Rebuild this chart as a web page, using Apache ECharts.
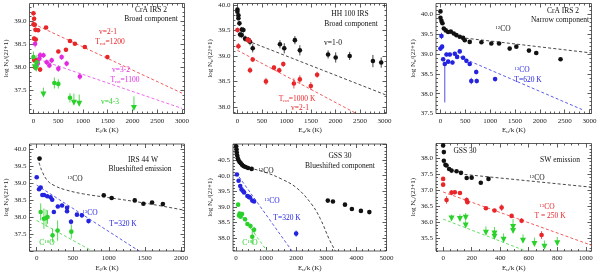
<!DOCTYPE html>
<html><head><meta charset="utf-8">
<script src="https://cdn.jsdelivr.net/npm/echarts@6/dist/echarts.min.js"></script>
<style>html,body{margin:0;padding:0;background:#fff}#c{width:600px;height:273px}</style>
</head><body><div id="c"></div><script>
// ---------------- DATA (x = E_u/k [K], y = log N_u/(2J+1), e = error) ----------------
// Panel 1: CrA IRS 2, broad component
const p1_v21 = [[0,39.17,0.05],[13,39.05,0.05],[0,38.93,0.06],[27,38.92,0.05],[40,38.81,0.05],[94,38.80,0.04],[13,38.62,0.05],[47,38.60,0.05],[254,38.86,0.03],[502,38.34,0.04],[656,38.38,0.04],[737,38.57,0.03],[837,38.51,0.03],[1038,38.44,0.03],[1493,38.22,0.03],[13,38.16,0.06],[67,38.15,0.05],[134,37.95,0.05],[33,38.00,0.06]];
const p1_v32 = [[33,38.51,0.08],[87,38.08,0.10],[121,38.19,0.08],[134,38.26,0.07],[201,38.26,0.06],[268,38.11,0.06],[321,38.04,0.06],[368,38.15,0.06],[502,37.97,0.07],[569,38.22,0.06],[670,38.08,0.06],[937,37.80,0.07]];
const p1_v43 = [[0,38.22,0.12],[67,38.11,0.15],[422,37.66,0.12],[502,37.64,0.10],[737,37.34,0.10]];
const p1_v43_lim = [[27,38.00,0.15],[54,37.97,0.12],[201,37.41,0.15],[817,37.23,0.20],[924,37.21,0.20],[2029,37.12,0.25]];
const p1_v21_fit = [[0,38.94],[3000,37.44]];
const p1_v32_fit = [[0,38.21],[3000,37.11]];
// Panel 2: HH 100 IRS, broad component
const p2_v10 = [[0,39.91,0.04],[0,39.87,0.04],[20,39.80,0.04],[20,39.74,0.04],[41,39.64,0.05],[88,39.52,0.05],[122,39.51,0.05],[54,39.42,0.06],[88,39.41,0.06],[156,39.34,0.06],[224,39.31,0.06],[257,39.28,0.07],[312,39.15,0.08],[867,39.23,0.08],[955,39.15,0.10],[1172,39.31,0.08],[1273,39.11,0.10],[1849,39.03,0.08],[2004,38.97,0.10],[2289,39.00,0.08],[2763,38.90,0.12],[2932,38.87,0.10]];
const p2_v21 = [[0,39.51,0.05],[20,39.19,0.06],[210,39.32,0.05],[240,39.30,0.05],[312,38.93,0.05],[257,38.72,0.06],[582,38.50,0.07],[745,38.77,0.05],[853,38.72,0.05],[935,38.84,0.05],[1151,38.46,0.10],[1273,38.54,0.08],[1497,38.41,0.08],[1625,38.63,0.06]];
const p2_v10_fit = [[200,39.30],[3040,38.23]];
const p2_v21_fit = [[0,39.11],[2424,37.87]];
// Panel 3: CrA IRS 2, narrow component
const p3_12co = [[0,40.08,0.02],[0,39.92,0.02],[20,39.84,0.02],[40,39.78,0.02],[67,39.65,0.02],[107,39.60,0.02],[154,39.56,0.02],[208,39.57,0.02],[268,39.52,0.02],[321,39.48,0.02],[388,39.44,0.02],[455,39.41,0.02],[489,39.35,0.02],[589,39.31,0.03],[824,39.30,0.03],[1024,39.27,0.03],[1179,39.27,0.03],[1393,39.14,0.03],[1527,39.19,0.03],[1781,39.09,0.03],[1928,39.03,0.03],[2417,38.87,0.03]];
const p3_13co = [[20,39.46,0.08,0.08],[0,39.14,0.05,0.05],[33,39.19,0.05,0.05],[54,38.87,0.05,0.05],[87,38.75,0.97,0.06],[121,38.99,0.05,0.05],[154,38.81,0.05,0.05],[188,38.99,0.05,0.05],[241,38.79,0.05,0.05],[288,39.01,0.05,0.05],[335,38.93,0.05,0.05],[388,39.07,0.05,0.05],[455,38.91,0.05,0.05],[522,38.83,0.05,0.05],[589,38.75,0.05,0.05],[620,38.32,0.08,0.08],[720,38.55,0.06,0.06],[730,38.32,0.06,0.06],[1100,38.37,0.05,0.05]];
const p3_12co_fit = [[400,39.42],[3040,39.03]];
const p3_13co_fit = [[300,38.98],[2850,37.60]];
// Panel 4: IRS 44 W, blueshifted emission
const p4_12co = [[40,39.72,0.03],[930,38.64,0.03],[1040,38.56,0.03],[1360,38.49,0.03],[1480,38.39,0.04],[1600,38.43,0.03],[1750,38.38,0.03]];
const p4_12co_fit = [[15,39.75],[40,39.55],[80,39.32],[150,39.07],[250,38.92],[400,38.80],[650,38.68],[1000,38.57],[1500,38.41],[2050,38.20]];
const p4_13co = [[0,39.17,0.05],[32,38.82,0.05],[55,38.87,0.05],[78,38.65,0.05],[101,38.65,0.05],[146,38.61,0.05],[192,38.58,0.05],[215,38.51,0.05],[238,38.15,0.06],[293,38.31,0.05],[352,38.34,0.05],[421,38.27,0.05],[421,38.17,0.06],[476,37.86,0.08],[558,38.07,0.05],[627,38.05,0.06],[719,37.88,0.06]];
const p4_13co_fit = [[0,38.94],[1420,37.00]];
const p4_c18o = [[55,38.15,0.25],[100,37.95,0.30],[130,37.97,0.25],[150,38.00,0.20],[220,37.46,0.20],[290,37.60,0.30],[480,37.57,0.20]];
const p4_c18o_fit = [[0,37.90],[770,37.00]];
// Panel 5: GSS 30, blueshifted component
const p5_12co = [[5,40.95,0.02],[15,40.85,0.02],[25,40.75,0.02],[40,40.65,0.02],[60,40.56,0.02],[90,40.49,0.02],[120,40.44,0.02],[160,40.40,0.02],[200,40.35,0.02],[250,40.31,0.02],[320,40.28,0.02],[400,40.25,0.02],[520,40.22,0.02],[3050,39.20,0.03],[3220,39.17,0.03],[3620,39.07,0.03],[3850,38.93,0.03],[4150,38.87,0.03],[4430,38.83,0.03]];
const p5_12co_fit = [[450,40.25],[1000,40.10],[1500,39.90],[2000,39.62],[2500,39.10],[2800,38.62],[3100,37.95],[3300,37.58]];
const p5_13co = [[30,40.04,0.03],[86,39.84,0.03],[140,39.67,0.03],[184,39.56,0.03],[240,39.50,0.03],[270,39.46,0.03],[378,39.35,0.03],[430,39.32,0.03],[464,39.30,0.03],[540,39.20,0.03],[600,39.17,0.03],[1998,38.14,0.10]];
const p5_13co_fit = [[0,40.10],[1860,37.58]];
const p5_c18o = [[70,39.07,0.06],[100,38.72,0.06],[120,38.78,0.06],[150,38.68,0.05],[200,38.77,0.05],[300,38.60,0.06],[380,38.45,0.06],[480,38.38,0.08],[600,38.26,0.10],[540,38.04,0.25]];
const p5_c18o_fit = [[100,38.84],[1030,37.58]];
// Panel 6: GSS 30, SW emission
const p6_12co = [[0,38.41,0.02],[5,38.20,0.02],[5,37.93,0.02],[16,37.80,0.02],[24,37.78,0.02],[42,37.67,0.02],[59,37.62,0.03],[94,37.60,0.03],[125,37.55,0.04],[165,37.39,0.05],[200,37.40,0.03],[264,37.24,0.05],[318,37.36,0.03]];
const p6_12co_fit = [[150,37.50],[1040,37.10]];
const p6_13co = [[0,37.36,0.06],[0,37.18,0.06],[24,36.70,0.12],[59,36.93,0.08],[82,36.94,0.06],[118,36.92,0.05],[165,36.70,0.08],[170,36.63,0.06],[300,36.44,0.05],[360,36.37,0.05],[410,36.46,0.10],[480,36.20,0.05],[550,36.05,0.08],[690,35.60,0.12]];
const p6_13co_fit = [[0,36.95],[1040,35.28]];
const p6_c18o_lim = [[59,36.12,0.12],[118,36.10,0.15],[158,36.14,0.15],[158,35.90,0.15],[300,35.67,0.20],[360,35.65,0.20],[360,35.55,0.20],[424,35.45,0.20],[490,35.85,0.25],[490,35.73,0.20],[560,35.42,0.20],[640,35.32,0.20],[710,35.23,0.20],[800,35.34,0.20]];
const p6_c18o_fit = [[0,36.10],[580,35.10]];

// ---------------- LAYOUT ----------------
const FONT = 'Liberation Serif';
const C = {k:'#111', r:'#e8262a', m:'#e22be0', g:'#2bd12b', b:'#2323e0'};
const FIT = {k:'#333', r:'#f04a4a', m:'#ee55ee', g:'#55dd55', b:'#4a4ae8'};

const panels = [
 {left:29.5, top:3.5, w:155, h:110, xMin:-80, xMax:3050, xMaj:500, xMin2:100, yMin:37.0, yMax:39.38, yLab:[37.5,39.0], xName:'E{sub|J}/k (K)', yName:'log N{sub|J}/(2J+1)'},
 {left:233.5, top:3.5, w:153, h:110, xMin:-80, xMax:3040, xMaj:500, xMin2:100, yMin:37.87, yMax:40.03, yLab:[38.0,40.0], xName:'E{sub|u}/k (K)', yName:'log N{sub|u}/(2J+1)'},
 {left:436, top:3.5, w:155.5, h:110, xMin:-90, xMax:3040, xMaj:500, xMin2:100, yMin:37.5, yMax:40.28, yLab:[37.5,40.0], xName:'E{sub|u}/k (K)', yName:'log N{sub|u}/(2J+1)'},
 {left:29.5, top:144, w:155, h:110, xMin:-100, xMax:2050, xMaj:500, xMin2:100, yMin:37.0, yMax:40.15, yLab:[37.5,40.0], xName:'E{sub|J}/k (K)', yName:'log N{sub|J}/(2J+1)'},
 {left:233, top:144, w:153.5, h:110, xMin:-100, xMax:5000, xMaj:1000, xMin2:200, yMin:37.58, yMax:41.02, yLab:[38.0,40.5], xName:'E{sub|u}/k (K)', yName:'log N{sub|u}/(2J+1)'},
 {left:436, top:143.5, w:155.5, h:110, xMin:-50, xMax:1040, xMaj:200, xMin2:50, yMin:35.1, yMax:38.47, yLab:[35.5,38.0], xName:'E{sub|u}/k (K)', yName:'log N{sub|u}/(2J+1)'}
];

function range(a, b, s){ const out=[]; const n=Math.round((b-a)/s); for(let i=0;i<=n;i++){ out.push(+(a+i*s).toFixed(4)); } return out; }
function ticksIn(min,max,step){ const s=Math.ceil(min/step-1e-9)*step; return range(s, Math.floor(max/step+1e-9)*step, step).filter(v=>v>=min&&v<=max); }

const richSub = {
  sub:{fontSize:5, fontFamily:FONT, verticalAlign:'bottom', padding:[3,0,0,0], color:'#222'},
  sup:{fontSize:5, fontFamily:FONT, verticalAlign:'top', padding:[0,0,3,0], color:'#222'}
};

const grids=[], xAxes=[], yAxes=[], series=[];
panels.forEach((p,i)=>{
  grids.push({left:p.left, top:p.top, width:p.w, height:p.h, show:true, borderColor:'#333', borderWidth:0.8, backgroundColor:'rgba(0,0,0,0)'});
  const xMaj = ticksIn(p.xMin,p.xMax,p.xMaj);
  const xMinr = ticksIn(p.xMin,p.xMax,p.xMin2).filter(v=>!xMaj.some(m=>Math.abs(m-v)<1e-6));
  const yMaj = ticksIn(p.yMin,p.yMax,0.5);
  const yMinr = ticksIn(p.yMin,p.yMax,0.1).filter(v=>!yMaj.some(m=>Math.abs(m-v)<1e-6));
  const yLabVals = yMaj.filter(v=>v>=p.yLab[0]-1e-6 && v<=p.yLab[1]+1e-6);
  const xb = {gridIndex:i, type:'value', min:p.xMin, max:p.xMax, splitLine:{show:false}, axisLine:{show:false,onZero:false}};
  const yb = {gridIndex:i, type:'value', min:p.yMin, max:p.yMax, splitLine:{show:false}, axisLine:{show:false,onZero:false}};
  const tickStyle = {color:'#333', width:0.8};
  xAxes.push(Object.assign({}, xb, {position:'bottom',
    axisTick:{show:true, inside:true, length:4, customValues:xMaj, lineStyle:tickStyle},
    axisLabel:{show:true, customValues:xMaj, fontFamily:FONT, fontSize:7, color:'#222', margin:4, formatter:v=>String(Math.round(v))},
    name:p.xName, nameLocation:'middle', nameGap:13,
    nameTextStyle:{fontFamily:FONT, fontSize:7, color:'#222', rich:richSub}}));
  xAxes.push(Object.assign({}, xb, {position:'bottom', axisTick:{show:true, inside:true, length:2, customValues:xMinr, lineStyle:tickStyle}, axisLabel:{show:false}}));
  xAxes.push(Object.assign({}, xb, {position:'top', axisTick:{show:true, inside:true, length:4, customValues:xMaj, lineStyle:tickStyle}, axisLabel:{show:false}}));
  xAxes.push(Object.assign({}, xb, {position:'top', axisTick:{show:true, inside:true, length:2, customValues:xMinr, lineStyle:tickStyle}, axisLabel:{show:false}}));
  yAxes.push(Object.assign({}, yb, {position:'left',
    axisTick:{show:true, inside:true, length:4, customValues:yMaj, lineStyle:tickStyle},
    axisLabel:{show:true, customValues:yLabVals, fontFamily:FONT, fontSize:7, color:'#222', margin:3, formatter:v=>v.toFixed(1)},
    name:p.yName, nameLocation:'middle', nameGap:19, nameRotate:90,
    nameTextStyle:{fontFamily:FONT, fontSize:7, color:'#222', rich:richSub}}));
  yAxes.push(Object.assign({}, yb, {position:'left', axisTick:{show:true, inside:true, length:2, customValues:yMinr, lineStyle:tickStyle}, axisLabel:{show:false}}));
  yAxes.push(Object.assign({}, yb, {position:'right', axisTick:{show:true, inside:true, length:4, customValues:yMaj, lineStyle:tickStyle}, axisLabel:{show:false}}));
  yAxes.push(Object.assign({}, yb, {position:'right', axisTick:{show:true, inside:true, length:2, customValues:yMinr, lineStyle:tickStyle}, axisLabel:{show:false}}));
});

function norm(d){ return d.map(r=>[r[0], r[1], r[2]||0, (r[3]!==undefined?r[3]:(r[2]||0))]); }
function errBars(pi, data, color, upOnly){
  return {type:'custom', xAxisIndex:pi*4, yAxisIndex:pi*4, data:norm(data), silent:true, z:3, clip:true,
    encode:{x:0, y:1},
    renderItem:(params, api)=>{
      const x=api.value(0), y=api.value(1), lo=api.value(2), hi=api.value(3);
      const a=api.coord([x, upOnly? y : y-lo]), b=api.coord([x, y+hi]);
      return {type:'line', shape:{x1:a[0],y1:a[1],x2:b[0],y2:b[1]}, style:{stroke:color, lineWidth:0.8}};
    }};
}
function points(pi, data, color, tri){
  return {type:'scatter', xAxisIndex:pi*4, yAxisIndex:pi*4, data:data.map(r=>[r[0],r[1]]), silent:true, z:4,
    symbol: tri?'triangle':'circle', symbolRotate: tri?180:0, symbolSize: tri?[6,6]:4.6,
    itemStyle:{color:color, opacity:1}};
}
function fit(pi, data, color, smooth){
  return {type:'line', xAxisIndex:pi*4, yAxisIndex:pi*4, data:data, silent:true, z:2, symbol:'none', smooth:smooth||false,
    lineStyle:{color:color, width:0.9, type:[3,2.2]}};
}
function add(pi, data, col, tri){ series.push(errBars(pi, data, C[col], tri)); series.push(points(pi, data, C[col], tri)); }

// Panel 1
series.push(fit(0,p1_v21_fit,FIT.r)); series.push(fit(0,p1_v32_fit,FIT.m));
add(0,p1_v21,'r'); add(0,p1_v32,'m'); add(0,p1_v43,'g'); add(0,p1_v43_lim,'g',true);
// Panel 2
series.push(fit(1,p2_v10_fit,FIT.k)); series.push(fit(1,p2_v21_fit,FIT.r));
add(1,p2_v10,'k'); add(1,p2_v21,'r');
// Panel 3
series.push(fit(2,p3_12co_fit,FIT.k)); series.push(fit(2,p3_13co_fit,FIT.b));
add(2,p3_12co,'k'); add(2,p3_13co,'b');
// Panel 4
series.push(fit(3,p4_12co_fit,FIT.k,0.4)); series.push(fit(3,p4_13co_fit,FIT.b)); series.push(fit(3,p4_c18o_fit,FIT.g));
add(3,p4_12co,'k'); add(3,p4_13co,'b'); add(3,p4_c18o,'g');
// Panel 5
series.push(fit(4,p5_12co_fit,FIT.k,0.4)); series.push(fit(4,p5_13co_fit,FIT.b)); series.push(fit(4,p5_c18o_fit,FIT.g));
add(4,p5_12co,'k'); add(4,p5_13co,'b'); add(4,p5_c18o,'g');
// Panel 6
series.push(fit(5,p6_12co_fit,FIT.k)); series.push(fit(5,p6_13co_fit,FIT.r)); series.push(fit(5,p6_c18o_fit,FIT.g));
add(5,p6_12co,'k'); add(5,p6_13co,'r'); add(5,p6_c18o_lim,'g',true);

// ---------------- ANNOTATIONS ----------------
const notes = [
 [151,10,'CrA IRS 2','k'],[151,19,'Broad component','k'],
 [108,32,'v=2-1','r'],[110,42,'T{sub|rot}=1200','r'],[121,70,'v=3-2','m'],[125,80,'T{sub|rot}=1100','m'],[110,102,'v=4-3','g'],
 [350,14,'HH 100 IRS','k'],[351,24,'Broad component','k'],[333,43,'v=1-0','k'],[297,99,'T{sub|rot}=1000 K','r'],[300,108,'v=2-1','r'],
 [563,11,'CrA IRS 2','k'],[560,20,'Narrow component','k'],[503,29,'{sup|12}CO','k'],[522,70,'{sup|13}CO','b'],[528,80,'T=620 K','b'],
 [143,160,'IRS 44 W','k'],[140,169,'Blueshifted emission','k'],[75,179,'{sup|12}CO','k'],[90,213,'{sup|13}CO','b'],[123,224,'T=320 K','b'],[47,243,'C{sup|18}O','g'],
 [340,156,'GSS 30','k'],[340,166,'Blueshifted component','k'],[266,171,'{sup|12}CO','k'],[272,201,'{sup|13}CO','b'],[287,218,'T=320 K','b'],[250,243,'C{sup|18}O','g'],
 [465,151,'GSS 30','k'],[560,160,'SW emission','k'],[537,178,'{sup|12}CO','k'],[547,207,'{sup|13}CO','r'],[550,216,'T = 250 K','r']
];
const graphics = notes.map(n=>({type:'text', x:n[0], y:n[1], silent:true, z:100, zlevel:1,
  style:{text:n[2], fill:C[n[3]], fontFamily:FONT, fontSize:7.5, align:'center', verticalAlign:'middle',
    rich:{sub:{fontSize:5, fill:C[n[3]], fontFamily:FONT, verticalAlign:'bottom', padding:[3,0,0,0]},
          sup:{fontSize:5, fill:C[n[3]], fontFamily:FONT, verticalAlign:'top', padding:[0,0,3,0]}}}}));

const chart = echarts.init(document.getElementById('c'), null, {renderer:'canvas'});
chart.setOption({animation:false, backgroundColor:'#fff', grid:grids, xAxis:xAxes, yAxis:yAxes, series:series, graphic:graphics});
</script></body></html>
